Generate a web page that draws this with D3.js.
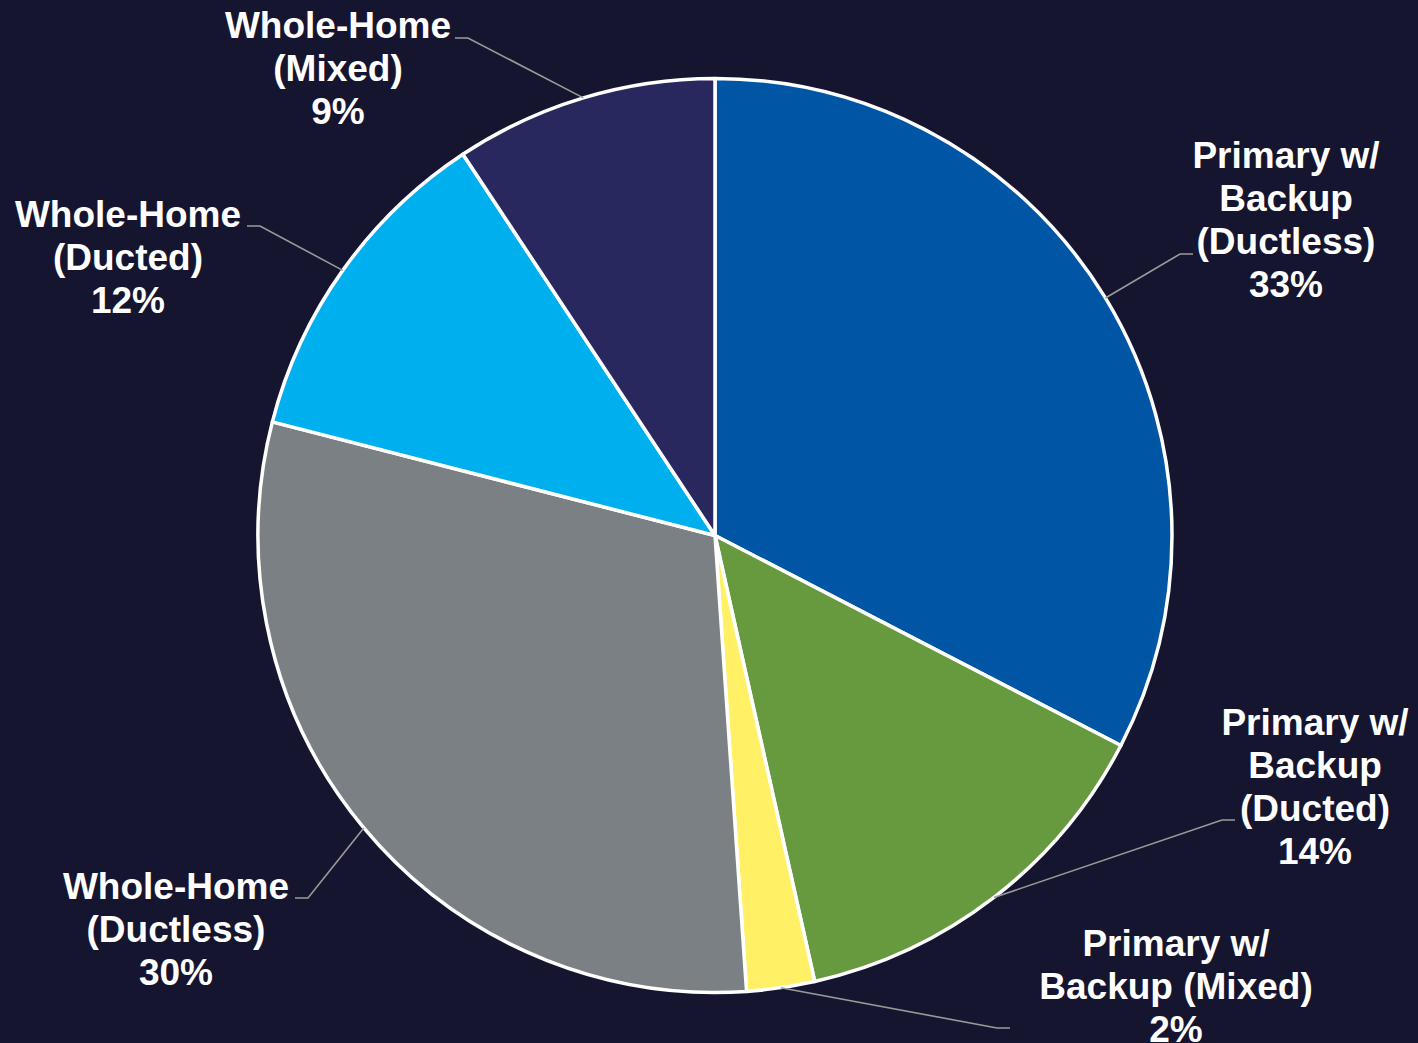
<!DOCTYPE html>
<html>
<head>
<meta charset="utf-8">
<script src="https://cdn.jsdelivr.net/npm/d3@7"></script>
<style>
  html, body { margin: 0; padding: 0; background: #16152f; }
  svg { display: block; }
</style>
</head>
<body>
<div class="pie-chart"></div>
<script>
// categories, clockwise from 12 o'clock
var categories = [
	"Primary w/\nBackup\n(Ductless)",
	"Primary w/\nBackup\n(Ducted)",
	"Primary w/\nBackup (Mixed)",
	"Whole-Home\n(Ductless)",
	"Whole-Home\n(Ducted)",
	"Whole-Home\n(Mixed)"
];
// share of each type (%)
var shares = [32.6, 13.9, 2.4, 30.1, 11.7, 9.3];
var sliceColors = ["#0055a5", "#67993f", "#fff066", "#7b8084", "#00b0ee", "#29285e"];

// where each label sits: text centre x, first baseline y, leader end point
var labelLayout = [
	{x: 1286, y: 168, lx: 1193, ly: 254, dir: -1},
	{x: 1315, y: 735, lx: 1235, ly: 820, dir: -1},
	{x: 1176, y: 956, lx: 1010, ly: 1028, dir: -1},
	{x: 176,  y: 899, lx: 295,  ly: 898, dir: 1},
	{x: 128,  y: 227, lx: 247,  ly: 226, dir: 1},
	{x: 338,  y: 38,  lx: 455,  ly: 38,  dir: 1}
];

(function () {
	var W = 1418, H = 1043;
	var cx = 715, cy = 535.5, radius = 457;

	var svg = d3.select(".pie-chart").append("svg")
		.attr("width", W)
		.attr("height", H);

	svg.append("rect").attr("width", W).attr("height", H).attr("fill", "#16152f");

	var data = categories.map(function (c, i) {
		return {name: c, value: shares[i], color: sliceColors[i], layout: labelLayout[i]};
	});

	var pie = d3.pie().sort(null).value(function (d) { return d.value; });
	var arc = d3.arc().innerRadius(0).outerRadius(radius);
	var arcs = pie(data);

	var g = svg.append("g").attr("transform", "translate(" + cx + "," + cy + ")");

	g.selectAll("path.slice").data(arcs).enter().append("path")
		.attr("class", "slice")
		.attr("d", arc)
		.attr("fill", function (d) { return d.data.color; })
		.attr("stroke", "#ffffff")
		.attr("stroke-width", 3.5)
		.attr("stroke-linejoin", "round");

	// leader lines: slice edge at mid angle -> elbow -> label
	svg.selectAll("polyline.leader").data(arcs).enter().append("polyline")
		.attr("class", "leader")
		.attr("fill", "none")
		.attr("stroke", "#9a9a9a")
		.attr("stroke-width", 1.6)
		.attr("points", function (d) {
			var a = (d.startAngle + d.endAngle) / 2;
			var ax = cx + radius * Math.sin(a), ay = cy - radius * Math.cos(a);
			var L = d.data.layout;
			var ex = L.lx + L.dir * 13;
			return [[ax, ay], [ex, L.ly], [L.lx, L.ly]].map(function (p) { return p.join(","); }).join(" ");
		});

	var labels = svg.selectAll("text.label").data(arcs).enter().append("text")
		.attr("class", "label")
		.attr("text-anchor", "middle")
		.attr("fill", "#ffffff")
		.style("font-family", "'Liberation Sans', Arial, sans-serif")
		.style("font-weight", "bold")
		.style("font-size", "37px");

	labels.each(function (d) {
		var L = d.data.layout;
		var lines = d.data.name.split("\n").concat([Math.round(d.data.value) + "%"]);
		d3.select(this).selectAll("tspan").data(lines).enter().append("tspan")
			.attr("x", L.x)
			.attr("y", function (t, i) { return L.y + i * 43; })
			.text(function (t) { return t; });
	});
})();
</script>
</body>
</html>
